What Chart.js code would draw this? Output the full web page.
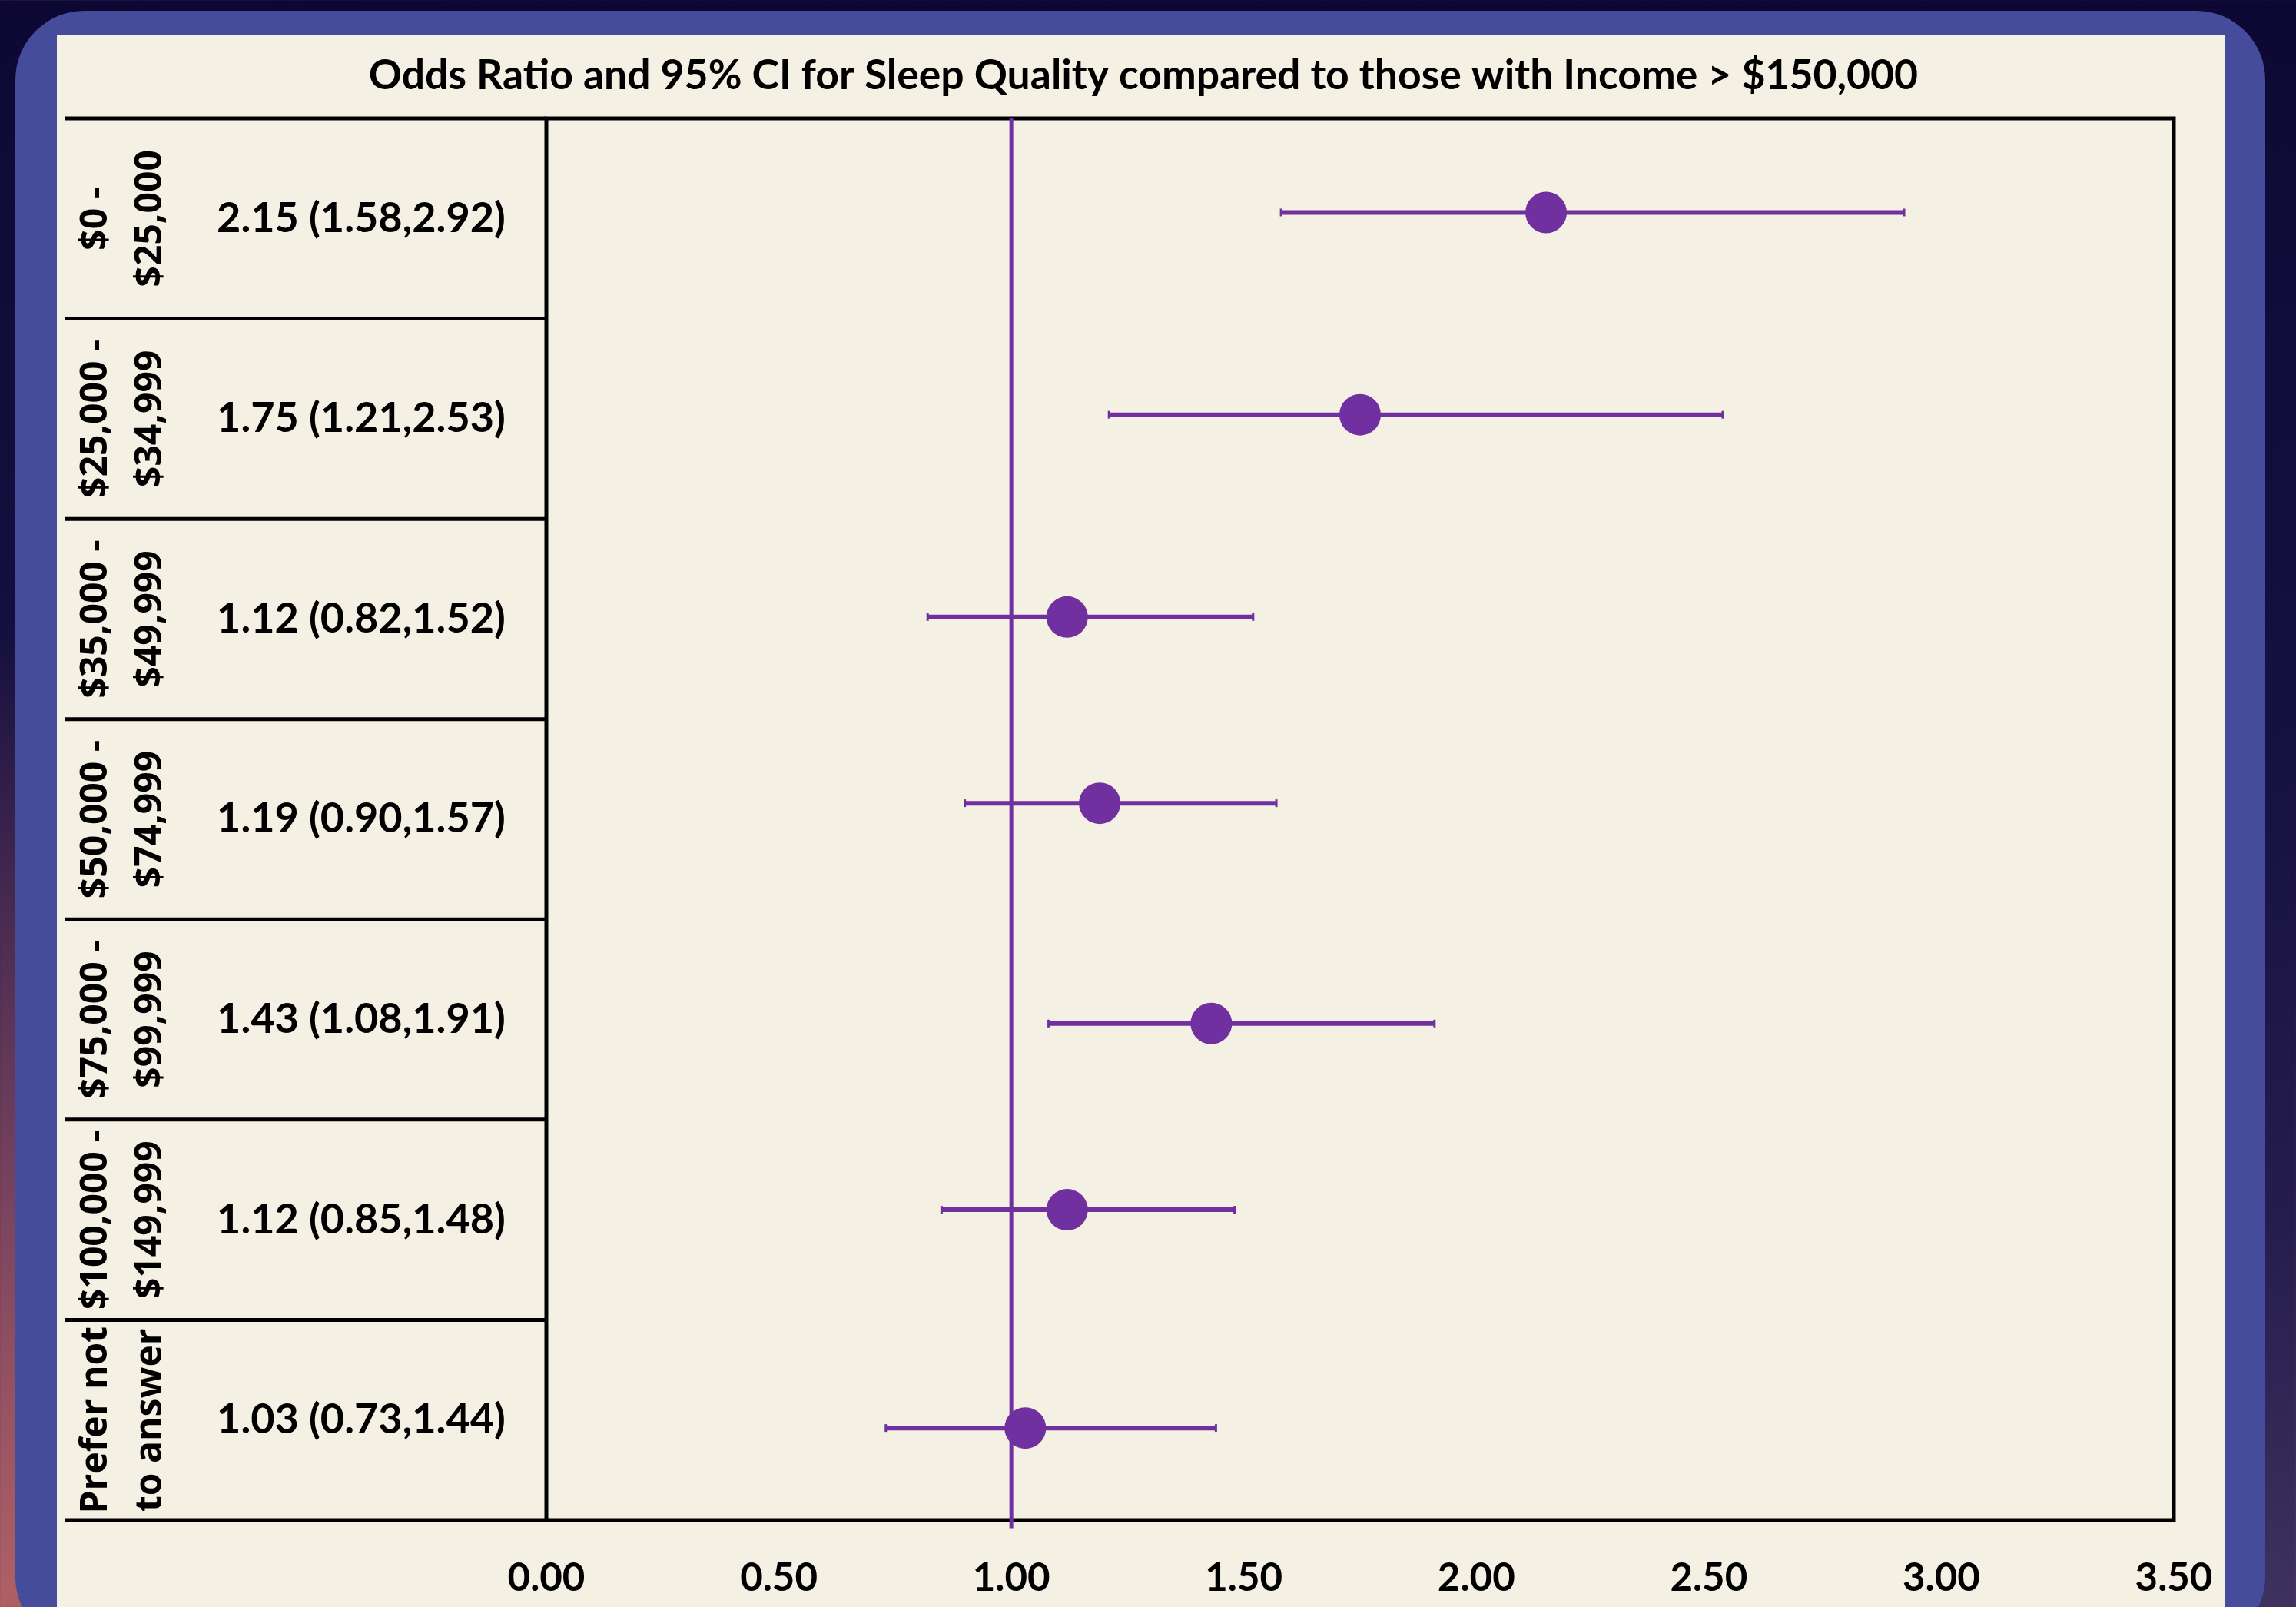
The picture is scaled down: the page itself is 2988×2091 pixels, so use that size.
<!DOCTYPE html>
<html>
<head>
<meta charset="utf-8">
<script src="https://cdn.jsdelivr.net/npm/chart.js@4.4.1/dist/chart.umd.min.js"></script>
<style>
html,body{margin:0;padding:0;width:2988px;height:2091px;overflow:hidden;}
body{
  background:
    radial-gradient(ellipse 700px 1500px at 0% 100%, rgba(176,96,100,1) 0%, rgba(150,80,100,0.75) 35%, rgba(60,30,80,0) 85%),
    linear-gradient(180deg, #0d0833 0%, #151040 45%, #241c4c 75%, #3d325f 100%);
}
#frame{position:absolute;left:20px;top:14px;width:2928px;height:2128px;border-radius:90px;background:#454c9c;}
#panel{position:absolute;left:74px;top:46px;width:2821px;height:2100px;background:#f4f0e4;}
#wrap{position:absolute;left:0;top:0;width:2988px;height:2091px;}
</style>
</head>
<body>
<div id="frame"></div>
<div id="panel"></div>
<div id="wrap"><canvas id="c" width="2988" height="2091"></canvas></div>
<script>
// ---- data ----
const titleText = "Odds Ratio and 95% CI for Sleep Quality compared to those with Income > $150,000";
const incomeLine1 = ["$0 -", "$25,000 -", "$35,000 -", "$50,000 -", "$75,000 -", "$100,000 -", "Prefer not"];
const incomeLine2 = ["$25,000", "$34,999", "$49,999", "$74,999", "$99,999", "$149,999", "to answer"];
const oddsRatio = [2.15, 1.75, 1.12, 1.19, 1.43, 1.12, 1.03];
const ciLower   = [1.58, 1.21, 0.82, 0.90, 1.08, 0.85, 0.73];
const ciUpper   = [2.92, 2.53, 1.52, 1.57, 1.91, 1.48, 1.44];
// vertical position of each marker on the row axis (row k spans k..k+1, top row = 6..7)
const markerRow = [6.53, 5.52, 4.51, 3.58, 2.48, 1.55, 0.46];
const xTickLabels = ["0.00", "0.50", "1.00", "1.50", "2.00", "2.50", "3.00", "3.50"];
const referenceOR = 1;

// ---- styling ----
const PURPLE = '#7030a0';
const nRows = oddsRatio.length;

const forestTable = {
  id: 'forestTable',
  beforeDatasetsDraw(chart, args, opts) {
    const {ctx, chartArea: a, scales: {y}} = chart;
    ctx.save();
    ctx.strokeStyle = '#000';
    ctx.lineWidth = 5;
    ctx.strokeRect(a.left, a.top, a.right - a.left, a.bottom - a.top);
    for (let k = 0; k <= nRows; k++) {
      const py = y.getPixelForValue(k);
      ctx.beginPath();
      ctx.moveTo(opts.tableLeft, py);
      ctx.lineTo(a.left, py);
      ctx.stroke();
    }
    ctx.fillStyle = '#000';
    ctx.textAlign = 'center';
    ctx.textBaseline = 'middle';
    for (let i = 0; i < nRows; i++) {
      const cy = y.getPixelForValue(nRows - i - 0.5);
      ctx.font = opts.labelFont;
      ctx.save(); ctx.translate(opts.label1X, cy); ctx.rotate(-Math.PI / 2);
      ctx.fillText(incomeLine1[i], 0, 0); ctx.restore();
      ctx.save(); ctx.translate(opts.label2X, cy); ctx.rotate(-Math.PI / 2);
      ctx.fillText(incomeLine2[i], 0, 0); ctx.restore();
      ctx.font = opts.orFont;
      const s = oddsRatio[i].toFixed(2) + ' (' + ciLower[i].toFixed(2) + ',' + ciUpper[i].toFixed(2) + ')';
      ctx.fillText(s, opts.orX, cy);
    }
    ctx.restore();
  }
};

function build() {
  const ciSets = oddsRatio.map((_, i) => ({
    type: 'line',
    data: [{x: ciLower[i], y: markerRow[i]}, {x: ciUpper[i], y: markerRow[i]}],
    borderColor: PURPLE, borderWidth: 6, fill: false,
    pointStyle: 'line', pointRotation: 90, pointRadius: 5,
    pointBorderWidth: 3, pointBorderColor: PURPLE, pointBackgroundColor: PURPLE,
    order: 2
  }));
  const refSet = {
    type: 'line',
    data: [{x: referenceOR, y: nRows}, {x: referenceOR, y: -0.04}],
    borderColor: PURPLE, borderWidth: 5, pointRadius: 0, clip: false, order: 3
  };
  const orSet = {
    type: 'scatter',
    data: oddsRatio.map((v, i) => ({x: v, y: markerRow[i]})),
    backgroundColor: PURPLE, borderWidth: 0, pointRadius: 27, pointHoverRadius: 27,
    order: 1
  };
  const T = 53.5;
  new Chart(document.getElementById('c'), {
    type: 'scatter',
    data: {datasets: [orSet, ...ciSets, refSet]},
    plugins: [forestTable],
    options: {
      responsive: false, animation: false, devicePixelRatio: 1,
      layout: {padding: {left: 147, right: 159, top: 0, bottom: 0}},
      plugins: {
        legend: {display: false}, tooltip: {enabled: false},
        title: {display: true, text: titleText, color: '#000',
          font: {family: 'Lato', weight: 'bold', size: T, lineHeight: 1.2},
          padding: {top: 67, bottom: 154 - 67 - T * 1.2}},
        forestTable: {tableLeft: 84, label1X: 125, label2X: 196, orX: 470,
          labelFont: 'bold 48px "Open Sans"', orFont: 'bold 54px Lato'}
      },
      scales: {
        x: {type: 'linear', min: 0, max: 3.5,
          grid: {display: false, drawTicks: false}, border: {display: false},
          ticks: {stepSize: 0.5, autoSkip: false, maxRotation: 0, color: '#000', padding: 45,
            font: {family: 'Lato', weight: 'bold', size: 51},
            callback: (v, idx) => xTickLabels[idx]},
          afterFit(s) { s.height = 113; }},
        y: {type: 'linear', min: 0, max: nRows,
          grid: {display: false, drawTicks: false}, border: {display: false},
          ticks: {display: false},
          afterFit(s) { s.width = 564; }}
      }
    }
  });
}
Promise.all([
  document.fonts.load('bold 54px Lato'),
  document.fonts.load('bold 48px "Open Sans"')
]).then(build, build);
</script>
</body>
</html>
